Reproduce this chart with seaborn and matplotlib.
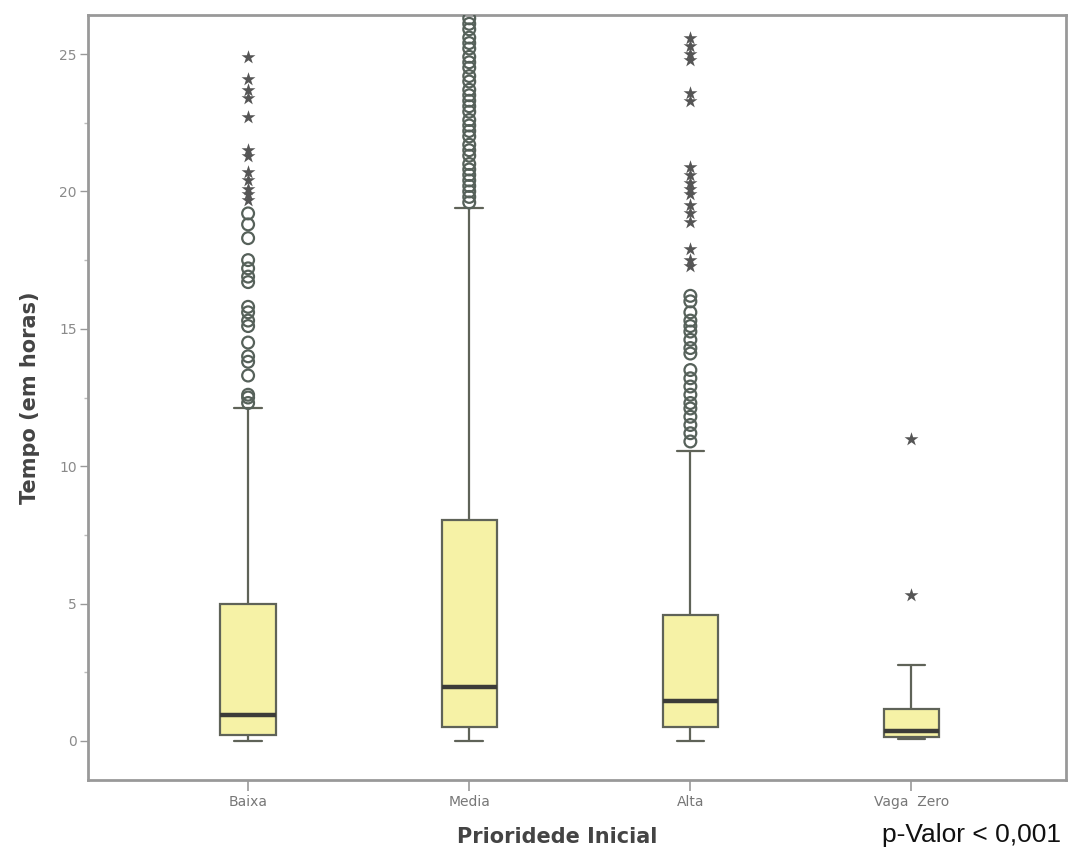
import numpy as np
import pandas as pd
import matplotlib
matplotlib.use("Agg")
import matplotlib.pyplot as plt
from matplotlib.ticker import MultipleLocator
import seaborn as sns

# ---- data ----
categories = ["Baixa", "Media", "Alta", "Vaga  Zero"]
# five-number summaries: whisker low, Q1, median, Q3, whisker high
whisker_low = [0.0, 0.0, 0.0, 0.07]
q1 = [0.22, 0.51, 0.51, 0.15]
median = [0.95, 1.95, 1.46, 0.36]
q3 = [5.0, 8.05, 4.6, 1.15]
whisker_high = [12.1, 19.4, 10.55, 2.75]

# outliers (1.5-3 IQR, circles)
baixa_circles = [12.3, 12.5, 12.6, 13.3, 13.8, 14.0, 14.5, 15.1, 15.3, 15.6, 15.8,
                 16.7, 16.9, 17.2, 17.5, 18.3, 18.8, 19.2]
media_circles = [19.6, 19.8, 20.0, 20.2, 20.4, 20.6, 20.8, 21.0, 21.3, 21.5, 21.7,
                 22.0, 22.2, 22.4, 22.6, 22.9, 23.1, 23.3, 23.5, 23.7, 24.0, 24.2,
                 24.5, 24.7, 24.9, 25.2, 25.4, 25.6, 25.9, 26.1, 26.3]
alta_circles = [10.9, 11.2, 11.5, 11.8, 12.1, 12.3, 12.6, 12.9, 13.2, 13.5, 14.1,
                14.3, 14.6, 14.9, 15.1, 15.3, 15.6, 16.0, 16.2]
# extremes (> 3 IQR, stars)
baixa_stars = [19.7, 19.9, 20.1, 20.4, 20.7, 21.3, 21.5, 22.7, 23.4, 23.7, 24.1, 24.9]
alta_stars = [17.3, 17.5, 17.9, 18.9, 19.2, 19.5, 19.9, 20.1, 20.3, 20.6, 20.9,
              23.3, 23.6, 24.8, 25.0, 25.3, 25.6]
vaga_stars = [5.3, 11.0]

y_ticks = [0, 5, 10, 15, 20, 25]

# ---- tables ----
core = pd.DataFrame({
    "cat": np.repeat(categories, 5),
    "val": np.ravel(np.column_stack([whisker_low, q1, median, q3, whisker_high])),
})
circles = pd.DataFrame({
    "cat": ["Baixa"] * len(baixa_circles) + ["Media"] * len(media_circles) + ["Alta"] * len(alta_circles),
    "val": baixa_circles + media_circles + alta_circles,
})
stars = pd.DataFrame({
    "cat": ["Baixa"] * len(baixa_stars) + ["Alta"] * len(alta_stars) + ["Vaga  Zero"] * len(vaga_stars),
    "val": baixa_stars + alta_stars + vaga_stars,
})

sns.set_style("white")
plt.rcParams["font.family"] = ["DejaVu Sans"]

fig = plt.figure(figsize=(10.68, 8.59), dpi=100)
ax = fig.add_axes([0.0824, 0.092, 0.916, 0.8905])

box_fill = "#f6f2a6"
edge = "#5f6358"
sns.boxplot(data=core, x="cat", y="val", order=categories, whis=(0, 100),
            width=0.25, color=box_fill, saturation=1, linecolor=edge, linewidth=1.6,
            showfliers=False, capwidths=0.125,
            medianprops=dict(color="#3c3c38", linewidth=3.2), ax=ax)

sns.stripplot(data=circles, x="cat", y="val", order=categories, jitter=False,
              marker="o", size=8.5, facecolor="none", edgecolor="#56615a",
              linewidth=1.6, color="none", ax=ax, zorder=3)
sns.stripplot(data=stars, x="cat", y="val", order=categories, jitter=False,
              marker="*", size=10.5, color="#555555", linewidth=0, ax=ax, zorder=3)

ax.set_xlim(-0.724, 3.70)
ax.set_ylim(-1.42, 26.42)
ax.set_yticks(y_ticks)
ax.yaxis.set_minor_locator(MultipleLocator(2.5))
ax.tick_params(axis="y", which="major", length=6, width=1, color="#999999",
               labelsize=10, labelcolor="#8a8a8a", left=True, direction="out", pad=2)
ax.tick_params(axis="y", which="minor", length=3, width=1, color="#bbbbbb", left=True)
ax.tick_params(axis="x", length=8, width=1.2, color="#999999", labelsize=10,
               labelcolor="#777777", bottom=True, direction="out", pad=3)

for s in ax.spines.values():
    s.set_color("#999999")
    s.set_linewidth(2)

ax.set_ylabel("Tempo (em horas)", fontsize=15, fontweight="bold", color="#444444", labelpad=14)
ax.set_xlabel("Prioridede Inicial", fontsize=15, fontweight="bold", color="#444444")
ax.xaxis.set_label_coords(0.48, -0.062)

fig.text(0.993, 0.028, "p-Valor < 0,001", fontsize=19, color="#111111",
         family="Liberation Sans", ha="right", va="center")

fig.savefig("out.png", dpi=100)
